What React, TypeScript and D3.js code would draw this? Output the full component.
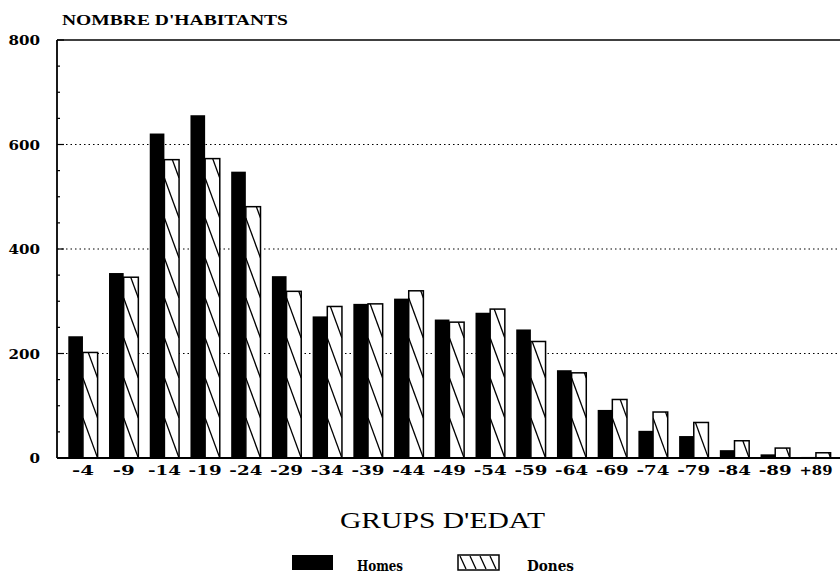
import React from 'react';
import * as d3 from 'd3';

const groups = ['-4', '-9', '-14', '-19', '-24', '-29', '-34', '-39', '-44', '-49', '-54', '-59', '-64', '-69', '-74', '-79', '-84', '-89', '+89'];
const homes = [233, 354, 621, 656, 548, 348, 271, 295, 305, 265, 278, 246, 168, 92, 52, 42, 15, 7, 2];
const dones = [202, 346, 571, 573, 481, 319, 290, 295, 320, 260, 285, 223, 163, 112, 88, 68, 33, 19, 10];
const yTicks = [0, 200, 400, 600, 800];
const series = ['Homes', 'Dones'];

const W = 840;
const H = 582;
const left = 57;
const top = 40;
const bottom = 458;
const right = 840;

export default function App() {
  const x = d3.scaleBand<string>().domain(groups).range([62.6, 836.3]).paddingInner(0.28).paddingOuter(0.14);
  const xs = d3.scaleBand<string>().domain(series).range([0, x.bandwidth()]);
  const y = d3.scaleLinear().domain([0, 800]).range([bottom, top]);
  const serif = '"DejaVu Serif", "Liberation Serif", serif';

  // hatch lines for one bar: "\" strokes that fall 40px across the width
  const hatch = (x0: number, x1: number, y0: number) => {
    const lines: { x1: number; y1: number; x2: number; y2: number }[] = [];
    const span = 40;
    for (let yy = bottom - span; yy > y0 - span; yy -= span) {
      lines.push({ x1: x0, y1: yy, x2: x1, y2: yy + span });
    }
    return lines;
  };

  return (
    <svg width={W} height={H} style={{ position: 'absolute', left: 0, top: 0, background: '#fff' }} fontFamily={serif}>
      <defs>
        {groups.map((g, i) => (
          <clipPath id={`clip${i}`} key={g}>
            <rect x={(x(g) ?? 0) + xs('Dones')!} y={y(dones[i])} width={xs.bandwidth()} height={bottom - y(dones[i])} />
          </clipPath>
        ))}
      </defs>

      {/* grid */}
      {yTicks.filter((t) => t > 0 && t < 800).map((t) => (
        <line key={t} x1={left} x2={right} y1={y(t)} y2={y(t)} stroke="#000" strokeWidth={1.2} strokeDasharray="1.5 3" />
      ))}
      <line x1={left} x2={right} y1={top} y2={top} stroke="#000" strokeWidth={1.5} />

      {/* bars */}
      {groups.map((g, i) => {
        const gx = x(g) ?? 0;
        const hx = gx + xs('Dones')!;
        const bw = xs.bandwidth();
        return (
          <g key={g}>
            <rect x={gx + xs('Homes')!} y={y(homes[i])} width={bw} height={bottom - y(homes[i])} fill="#000" />
            <rect x={hx} y={y(dones[i])} width={bw} height={bottom - y(dones[i])} fill="#fff" stroke="#000" strokeWidth={1.5} />
            <g clipPath={`url(#clip${i})`}>
              {hatch(hx, hx + bw, y(dones[i])).map((l, k) => (
                <line key={k} {...l} stroke="#000" strokeWidth={1.3} />
              ))}
            </g>
          </g>
        );
      })}

      {/* axes */}
      <line x1={left} x2={left} y1={top} y2={bottom} stroke="#000" strokeWidth={1.8} />
      <line x1={left} x2={right} y1={bottom} y2={bottom} stroke="#000" strokeWidth={1.8} />
      {d3.range(0, 801, 50).map((t) => (
        <line key={t} x1={left} x2={left + (t % 200 === 0 ? 7 : 3)} y1={y(t)} y2={y(t)} stroke="#000" strokeWidth={1.2} />
      ))}
      {yTicks.map((t) => (
        <text key={t} x={40} y={y(t) + 5} textAnchor="end" fontSize={13} fontWeight="bold"
          textLength={String(t).length * 10.5} lengthAdjust="spacingAndGlyphs">{t}</text>
      ))}
      {groups.map((g) => (
        <text key={g} x={(x(g) ?? 0) + x.bandwidth() / 2} y={475} textAnchor="middle" fontSize={12} fontWeight="bold"
          textLength={g.length * 11} lengthAdjust="spacingAndGlyphs">{g}</text>
      ))}

      <text x={62} y={25} fontSize={14} fontWeight="bold" fontFamily='"Liberation Serif", serif'
        textLength={226} lengthAdjust="spacingAndGlyphs">NOMBRE D'HABITANTS</text>
      <text x={340} y={528} fontSize={23} fontFamily='"Liberation Serif", serif'
        textLength={205} lengthAdjust="spacingAndGlyphs">GRUPS D'EDAT</text>

      {/* legend */}
      <rect x={292} y={555} width={41} height={15} fill="#000" />
      <text x={357} y={571} fontSize={14} fontWeight="bold" textLength={46} lengthAdjust="spacingAndGlyphs">Homes</text>
      <rect x={458} y={555} width={41} height={15} fill="#fff" stroke="#000" strokeWidth={1.5} />
      {[0, 1, 2, 3].map((k) => (
        <line key={k} x1={460 + k * 10} y1={556} x2={466 + k * 10} y2={569} stroke="#000" strokeWidth={1.3} />
      ))}
      <text x={527} y={571} fontSize={14} fontWeight="bold" textLength={47} lengthAdjust="spacingAndGlyphs">Dones</text>
    </svg>
  );
}
